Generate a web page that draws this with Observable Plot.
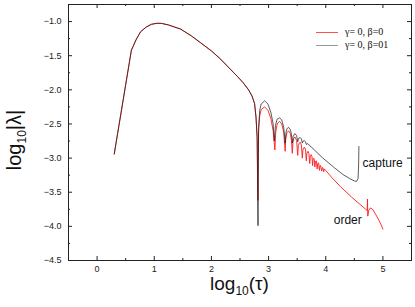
<!DOCTYPE html>
<html><head><meta charset="utf-8">
<script src="https://cdn.jsdelivr.net/npm/d3@7"></script>
<script src="https://cdn.jsdelivr.net/npm/@observablehq/plot@0.6"></script>
<style>
html,body{margin:0;padding:0;background:#fff;}
#wrap{position:relative;width:415px;height:307px;font-family:"Liberation Sans",Arial,sans-serif;color:#111;}
#wrap svg{position:absolute;left:0;top:0;}
.ov{position:absolute;white-space:nowrap;}
.leg{font-family:"Liberation Serif","Times New Roman",serif;font-size:10px;line-height:10px;}
.sw{display:inline-block;width:22px;height:0;vertical-align:middle;margin-right:7px;}
</style></head>
<body><div id="wrap"></div>
<script>
// shared part of both curves (x = log10 tau, y = log10 |lambda|)
const sharedPts = [[0.30,-2.94],[0.60,-1.42],[0.68,-1.27],[0.76,-1.15],[0.86,-1.08],[0.95,-1.04],[1.05,-1.025],[1.13,-1.027],[1.25,-1.05],[1.46,-1.11],[1.65,-1.21],[1.81,-1.31],[2.00,-1.43],[2.16,-1.55],[2.31,-1.68],[2.45,-1.80],[2.55,-1.89],[2.65,-2.00],[2.71,-2.09],[2.755,-2.20],[2.78,-2.40]];
// gamma=0, beta=0 (red)
const redPts = [[2.80,-2.70],[2.813,-3.62],[2.825,-2.60],[2.845,-2.38],[2.87,-2.29],[2.93,-2.25],[2.99,-2.30],[3.04,-2.42],[3.08,-2.60],[3.11,-2.88],
[3.125,-2.62],[3.15,-2.50],[3.19,-2.46],[3.23,-2.50],[3.265,-2.62],[3.29,-2.90],
[3.30,-2.72],[3.32,-2.63],[3.35,-2.60],[3.38,-2.64],[3.40,-2.74],[3.415,-2.93],
[3.425,-2.78],[3.44,-2.71],[3.46,-2.69],[3.49,-2.74],[3.51,-2.96],
[3.52,-2.82],[3.535,-2.78],[3.555,-2.77],[3.575,-2.81],[3.59,-3.00],
[3.60,-2.88],[3.625,-2.84],[3.645,-2.87],[3.66,-3.04],
[3.67,-2.93],[3.69,-2.90],[3.705,-2.93],[3.72,-3.08],
[3.73,-2.97],[3.745,-2.95],[3.76,-2.98],[3.77,-3.11],
[3.78,-3.01],[3.79,-3.00],[3.80,-3.02],[3.81,-3.13],
[3.82,-3.05],[3.835,-3.04],[3.85,-3.16],
[3.86,-3.08],[3.875,-3.07],[3.89,-3.18],
[3.90,-3.11],[3.91,-3.11],[3.93,-3.19],
[3.94,-3.14],[3.95,-3.14],[3.965,-3.20],
[3.975,-3.16],[4.00,-3.18],
[4.10,-3.28],[4.26,-3.42],[4.45,-3.57],[4.70,-3.75],[4.725,-3.77],[4.73,-3.60],[4.735,-3.85],[4.75,-3.77],[4.78,-3.73],[4.82,-3.75],[4.87,-3.82],[4.93,-3.91],[4.97,-3.98],[5.00,-4.04]];
// gamma=0, beta=01 (black)
const blackPts = [[2.80,-2.70],[2.815,-3.99],[2.825,-2.55],[2.845,-2.30],[2.87,-2.21],[2.93,-2.16],[2.99,-2.21],[3.04,-2.33],[3.08,-2.50],[3.10,-2.75],
[3.12,-2.52],[3.15,-2.43],[3.19,-2.41],[3.23,-2.44],[3.265,-2.55],[3.29,-2.78],
[3.305,-2.62],[3.32,-2.57],[3.35,-2.55],[3.38,-2.58],[3.40,-2.65],[3.415,-2.78],
[3.43,-2.68],[3.46,-2.64],[3.49,-2.67],[3.51,-2.76],
[3.525,-2.71],[3.555,-2.70],[3.575,-2.72],[3.59,-2.78],
[3.605,-2.75],[3.625,-2.745],[3.645,-2.76],[3.66,-2.80],
[3.675,-2.79],[3.69,-2.79],[3.72,-2.82],
[3.75,-2.84],[3.80,-2.88],[3.95,-3.00],[4.15,-3.14],[4.30,-3.24],[4.42,-3.30],[4.50,-3.335],[4.54,-3.34],[4.565,-3.30],[4.575,-3.10],[4.58,-2.83]];

const seriesNames = ["γ= 0,  β=0", "γ= 0,  β=01"];
const seriesColors = ["#ff1a1a", "#1a1a1a"];
const xMajor = [0,1,2,3,4,5];
const xMinor = [0.5,1.5,2.5,3.5,4.5];
const yMajor = [-1.0,-1.5,-2.0,-2.5,-3.0,-3.5,-4.0,-4.5];
const yMinor = [-0.75,-1.25,-1.75,-2.25,-2.75,-3.25,-3.75,-4.25];
const annotations = [{label:"capture", x:4.645, y:-3.07},{label:"order", x:4.14, y:-3.91}];

const toRows = (pts) => pts.map(([x,y]) => ({x,y}));
const redRows = toRows(sharedPts.concat(redPts));
const blackRows = toRows(sharedPts.concat(blackPts));

const W = 415, H = 307, mT = 4, mB = 47, mL = 68, mR = 4;
const iH = H - mT - mB, iW = W - mL - mR;

const chart = Plot.plot({
  width: W, height: H,
  marginTop: mT, marginBottom: mB, marginLeft: mL, marginRight: mR,
  style: {fontFamily: '"Liberation Sans", Arial, sans-serif', fontSize: "9px", color: "#222", background: "#fff"},
  x: {domain: [-0.5, 5.5]},
  y: {domain: [-4.5, -0.75]},
  marks: [
    Plot.axisX(xMajor, {tickSize: 0, tickPadding: 5, tickFormat: d3.format("d"), fontSize: 9, label: null}),
    Plot.axisY(yMajor, {tickSize: 0, tickPadding: 7, tickFormat: d3.format(".1f"), fontSize: 9, label: null}),
    Plot.line(redRows, {x: "x", y: "y", stroke: seriesColors[0], strokeWidth: 0.9}),
    Plot.line(blackRows, {x: "x", y: "y", stroke: seriesColors[1], strokeWidth: 0.9, strokeOpacity: 0.8}),
    Plot.tickX(xMajor, {x: d => d, insetTop: iH - 4, stroke: "#222"}),
    Plot.tickX(xMajor, {x: d => d, insetBottom: iH - 4, stroke: "#222"}),
    Plot.tickX(xMinor, {x: d => d, insetTop: iH - 2, stroke: "#222"}),
    Plot.tickX(xMinor, {x: d => d, insetBottom: iH - 2, stroke: "#222"}),
    Plot.tickY(yMajor, {y: d => d, insetRight: iW - 4, stroke: "#222"}),
    Plot.tickY(yMajor, {y: d => d, insetLeft: iW - 4, stroke: "#222"}),
    Plot.tickY(yMinor, {y: d => d, insetRight: iW - 2, stroke: "#222"}),
    Plot.tickY(yMinor, {y: d => d, insetLeft: iW - 2, stroke: "#222"}),
    Plot.text(annotations, {x: "x", y: "y", text: "label", textAnchor: "start", fontSize: 12, fill: "#111"}),
    Plot.frame({stroke: "#222", strokeWidth: 1})
  ]
});
const wrap = document.getElementById("wrap");
wrap.appendChild(chart);

// axis titles
const xt = document.createElement("div");
xt.className = "ov";
xt.style.cssText = "left:" + (mL + iW / 2) + "px;top:278px;transform:translateX(-50%);font-size:19px;line-height:12px;";
xt.innerHTML = '<span>log</span><span style="font-size:12px;position:relative;top:5px">10</span><span>(τ)</span>';
wrap.appendChild(xt);

const yt = document.createElement("div");
yt.className = "ov";
yt.style.cssText = "left:" + (14 - 75) + "px;top:" + (140 - 10) + "px;width:150px;height:20px;text-align:center;font-size:20px;line-height:20px;transform:rotate(-90deg);transform-origin:75px 10px;";
yt.innerHTML = '<span>log</span><span style="font-size:12px;position:relative;top:5px">10</span><span>|λ|</span>';
wrap.appendChild(yt);

// legend
const leg = document.createElement("div");
leg.className = "ov leg";
leg.style.cssText += "left:316px;top:26px;";
const legColors = ["#ff5050", "#999999"];
leg.innerHTML = seriesNames.map((n,i) =>
  '<div style="height:13px;line-height:12px"><span class="sw" style="border-top:1px solid ' + legColors[i] + '"></span>' + n + '</div>').join("");
wrap.appendChild(leg);
</script></body></html>
